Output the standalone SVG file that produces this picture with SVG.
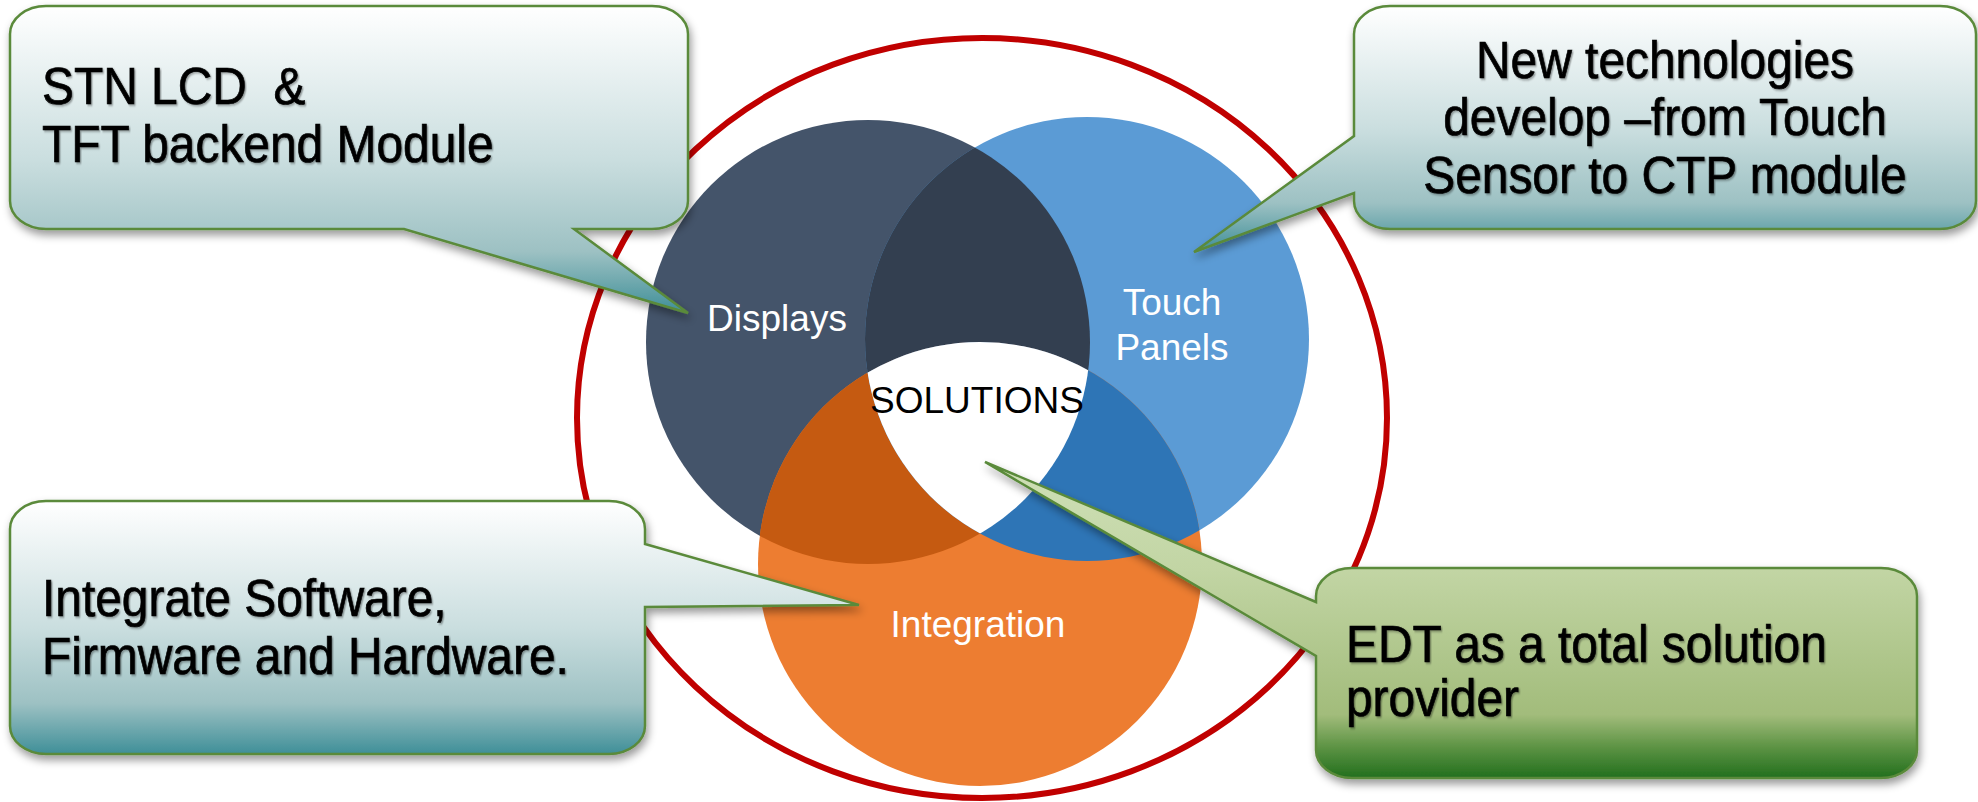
<svg xmlns="http://www.w3.org/2000/svg" width="1978" height="802" viewBox="0 0 1978 802">
<defs>
  <clipPath id="clipD"><circle cx="868" cy="342" r="222"/></clipPath>
  <clipPath id="clipT"><circle cx="1087" cy="339" r="222"/></clipPath>
  <linearGradient id="gTeal" x1="0" y1="0" x2="0" y2="1">
    <stop offset="0" stop-color="#FFFFFF"/>
    <stop offset="0.5" stop-color="#CADEDF"/>
    <stop offset="0.8" stop-color="#9DC1C3"/>
    <stop offset="1" stop-color="#3F8F98"/>
  </linearGradient>
  <linearGradient id="gGreen" x1="0" y1="0" x2="0" y2="1">
    <stop offset="0" stop-color="#CFE0B7"/>
    <stop offset="0.34" stop-color="#C2D5A4"/>
    <stop offset="0.8" stop-color="#A2BC7B"/>
    <stop offset="0.9" stop-color="#5E9445"/>
    <stop offset="1" stop-color="#226F1D"/>
  </linearGradient>
  <filter id="shadow" x="-10%" y="-10%" width="120%" height="130%">
    <feDropShadow dx="2" dy="5" stdDeviation="4" flood-color="#000" flood-opacity="0.4"/>
  </filter>
  <filter id="tshadow" x="-5%" y="-20%" width="110%" height="140%">
    <feDropShadow dx="1.5" dy="1.5" stdDeviation="0.8" flood-color="#000" flood-opacity="0.35"/>
  </filter>
</defs>
<style>
  .lbl { font-family: "Liberation Sans", Arial, sans-serif; font-size: 37px; fill: #FFFFFF; text-anchor: middle; }
  .ctr { font-family: "Liberation Sans", Arial, sans-serif; font-size: 37px; fill: #000000; text-anchor: middle; }
  .ct { font-family: "Liberation Sans", Arial, sans-serif; font-size: 51.5px; fill: #000000; stroke: #000000; stroke-width: 0.7; white-space: pre; filter: url(#tshadow); }
  .co { stroke: #5A8A3A; stroke-width: 2.5; filter: url(#shadow); }
</style>

<rect width="1978" height="802" fill="#FFFFFF"/>

<g id="frame">
  <ellipse cx="982" cy="418" rx="405" ry="380" fill="none" stroke="#C00000" stroke-width="6"/>
</g>

<g id="venn">
  <g id="displays">
    <circle cx="868" cy="342" r="222" fill="#44546A"/>
  </g>
  <g id="touch-panels">
    <circle cx="1087" cy="339" r="222" fill="#5B9BD5"/>
  </g>
  <g id="integration">
    <circle cx="980" cy="564" r="222" fill="#ED7D31"/>
  </g>
  <g id="overlaps">
    <circle cx="1087" cy="339" r="222" fill="#333F50" clip-path="url(#clipD)"/>
    <circle cx="980" cy="564" r="222" fill="#C55A11" clip-path="url(#clipD)"/>
    <circle cx="980" cy="564" r="222" fill="#2E75B6" clip-path="url(#clipT)"/>
    <g clip-path="url(#clipD)">
      <circle cx="980" cy="564" r="222" fill="#FFFFFF" clip-path="url(#clipT)"/>
    </g>
  </g>
  <text class="lbl" x="777" y="331">Displays</text>
  <text class="lbl" x="1172" y="315">Touch</text>
  <text class="lbl" x="1172" y="360">Panels</text>
  <text class="lbl" x="978" y="637">Integration</text>
  <g id="solutions">
    <text class="ctr" x="977" y="413">SOLUTIONS</text>
  </g>
</g>

<g id="callout-stn">
  <path class="co" fill="url(#gTeal)" d="M 46,6 H 652 A 36 28 0 0 1 688,34 V 201 A 36 28 0 0 1 652,229 H 574 L 688,313 L 404,229 H 46 A 36 28 0 0 1 10,201 V 34 A 36 28 0 0 1 46,6 Z"/>
  <g transform="translate(2.94,0) scale(0.93,1)">
    <text class="ct" x="42" y="104">STN LCD  &amp;</text>
    <text class="ct" x="42" y="162">TFT backend Module</text>
  </g>
</g>

<g id="callout-new-tech">
  <path class="co" fill="url(#gTeal)" d="M 1390,6 H 1940 A 36 28 0 0 1 1976,34 V 201 A 36 28 0 0 1 1940,229 H 1390 A 36 28 0 0 1 1354,201 V 193 L 1194,252 L 1354,136 V 34 A 36 28 0 0 1 1390,6 Z"/>
  <g transform="translate(116.55,0) scale(0.93,1)">
    <text class="ct" x="1665" y="78" text-anchor="middle">New technologies</text>
    <text class="ct" x="1665" y="135" text-anchor="middle">develop –from Touch</text>
    <text class="ct" x="1665" y="193" text-anchor="middle">Sensor to CTP module</text>
  </g>
</g>

<g id="callout-integrate">
  <path class="co" fill="url(#gTeal)" d="M 46,501 H 609 A 36 28 0 0 1 645,529 V 544 L 859,605 L 645,607 V 726 A 36 28 0 0 1 609,754 H 46 A 36 28 0 0 1 10,726 V 529 A 36 28 0 0 1 46,501 Z"/>
  <g transform="translate(2.94,0) scale(0.93,1)">
    <text class="ct" x="42" y="616">Integrate Software,</text>
    <text class="ct" x="42" y="674">Firmware and Hardware.</text>
  </g>
</g>

<g id="callout-edt">
  <path class="co" fill="url(#gGreen)" d="M 1352,568 H 1881 A 36 28 0 0 1 1917,596 V 750 A 36 28 0 0 1 1881,778 H 1352 A 36 28 0 0 1 1316,750 V 656 L 985,462 L 1316,602 V 596 A 36 28 0 0 1 1352,568 Z"/>
  <g transform="translate(94.22,0) scale(0.93,1)">
    <text class="ct" x="1346" y="662">EDT as a total solution</text>
    <text class="ct" x="1346" y="716">provider</text>
  </g>
</g>
</svg>
